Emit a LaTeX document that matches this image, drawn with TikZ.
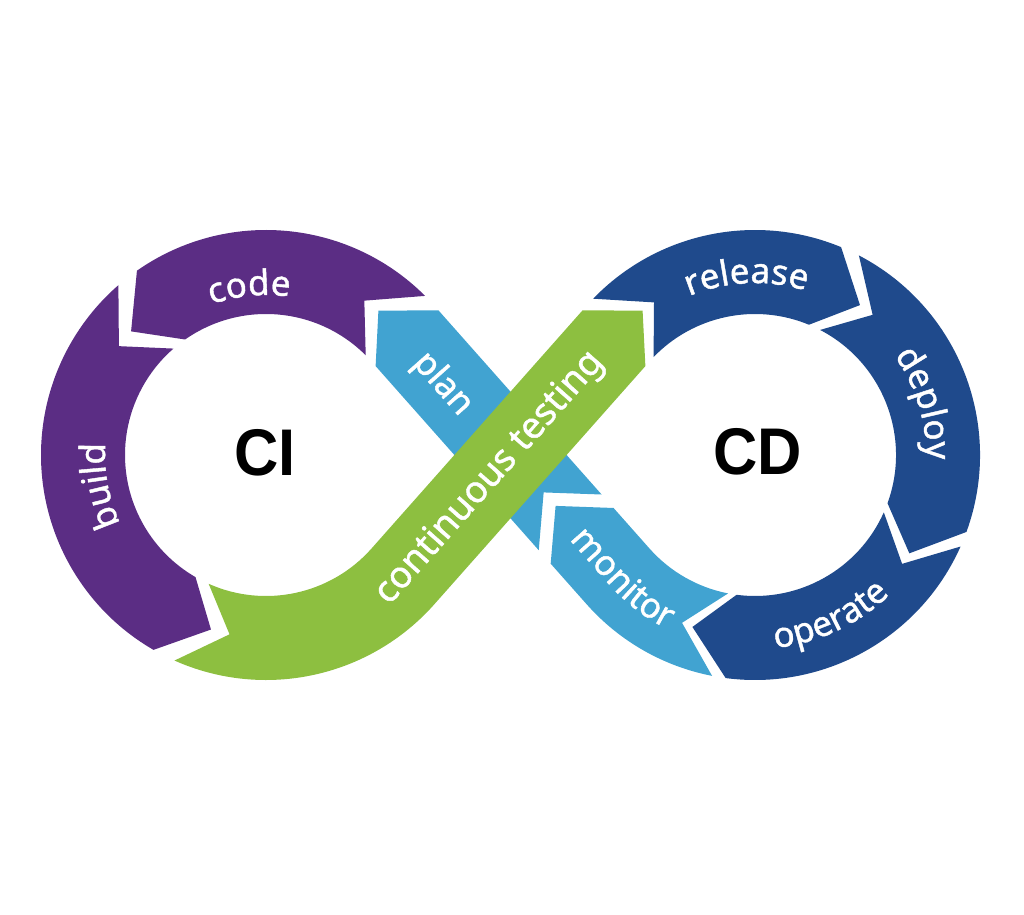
\documentclass[tikz,border=0pt]{standalone}
\usepackage{fontspec}
\setmainfont{Noto Sans}
\newfontfamily\lblfam[FakeBold=1.2]{Noto Sans}
\newfontfamily\bigfam{Liberation Sans}
\usetikzlibrary{calc,decorations.text}
\definecolor{cipurple}{HTML}{5B2D84}
\definecolor{ctgreen}{HTML}{8DBF40}
\definecolor{ltblue}{HTML}{41A3D1}
\definecolor{dkblue}{HTML}{1F4A8C}
\newcommand{\lblfont}{\lblfam\fontsize{35}{40}\selectfont}
\begin{document}
\begin{tikzpicture}[x=1pt,y=1pt,
  lbl/.style={text=white,font=\lblfont,inner sep=0pt},
  big/.style={text=black,font=\bigfam\bfseries\fontsize{66}{70}\selectfont,inner sep=0pt,xscale=0.93},
  curvlbl/.style={decorate,decoration={text along path,text align=center,text={|\lblfont\color{white}|#1}}}]
\useasboundingbox (0,0) rectangle (1024,914);
\coordinate (C1) at (266,459);
\coordinate (C2) at (755,459);
\coordinate (M) at (510.5,459);

% ---- plan (light blue, straight) ----
\fill[ltblue] ($(M)+(311.54:90pt)+(221.54:42pt)$) -- ($(M)+(131.54:156pt)+(221.54:42pt)$)
  -- ($(C1)+(52.1:183pt)$) -- ($(M)+(131.54:156pt)+(41.54:42pt)$)
  -- ($(M)+(311.54:90pt)+(41.54:42pt)$) -- ($(M)+(311.54:50pt)$) -- cycle;

% ---- monitor ----
\fill[ltblue] ($(C2)+(-101:225pt)$) arc[start angle=-101,end angle=-138.46,radius=225pt]
  -- ($(M)+(311.54:108pt)+(221.54:42pt)$) -- ($(M)+(311.54:68pt)$)
  -- ($(M)+(311.54:108pt)+(41.54:42pt)$) -- ($(C2)+(-138.46:141pt)$)
  arc[start angle=-138.46,end angle=-101,radius=141pt] -- ($(C2)+(-113.5:183pt)$) -- cycle;

% ---- code ----
\fill[cipurple] ($(C1)+(45:225pt)$) arc[start angle=45,end angle=125,radius=225pt]
  -- ($(C1)+(137.5:183pt)$) -- ($(C1)+(125:141pt)$)
  arc[start angle=125,end angle=45,radius=141pt] -- ($(C1)+(57.5:183pt)$) -- cycle;

% ---- build ----
\fill[cipurple] ($(C1)+(131:225pt)$) arc[start angle=131,end angle=240,radius=225pt]
  -- ($(C1)+(252.5:183pt)$) -- ($(C1)+(240:141pt)$)
  arc[start angle=240,end angle=131,radius=141pt] -- ($(C1)+(143.5:183pt)$) -- cycle;

% ---- release ----
\fill[dkblue] ($(C2)+(136:225pt)$) arc[start angle=136,end angle=67.5,radius=225pt]
  -- ($(C2)+(55:183pt)$) -- ($(C2)+(67.5:141pt)$)
  arc[start angle=67.5,end angle=136,radius=141pt] -- ($(C2)+(123.5:183pt)$) -- cycle;

% ---- deploy ----
\fill[dkblue] ($(C2)+(62.5:225pt)$) arc[start angle=62.5,end angle=-20,radius=225pt]
  -- ($(C2)+(-32.5:183pt)$) -- ($(C2)+(-20:141pt)$)
  arc[start angle=-20,end angle=62.5,radius=141pt] -- ($(C2)+(50:183pt)$) -- cycle;

% ---- operate ----
\fill[dkblue] ($(C2)+(-24:225pt)$) arc[start angle=-24,end angle=-97.5,radius=225pt]
  -- ($(C2)+(-110:183pt)$) -- ($(C2)+(-97.5:141pt)$)
  arc[start angle=-97.5,end angle=-24,radius=141pt] -- ($(C2)+(-36.5:183pt)$) -- cycle;

% ---- continuous testing (green) ----
\fill[ctgreen] ($(C1)+(246:225pt)$) arc[start angle=246,end angle=318.46,radius=225pt]
  -- ($(M)+(48.46:156pt)+(318.46:42pt)$) -- ($(C2)+(127.9:183pt)$)
  -- ($(M)+(48.46:156pt)+(138.46:42pt)$) -- ($(C1)+(318.46:141pt)$)
  arc[start angle=318.46,end angle=246,radius=141pt] -- ($(C1)+(258.5:183pt)$) -- cycle;

% ---- labels ----
\path[curvlbl=code] ($(C1)+(135.7:160pt)$) arc[start angle=135.7,end angle=55.7,radius=160pt];
\path[curvlbl=build] ($(C1)+(230.5:161pt)$) arc[start angle=230.5,end angle=150.5,radius=161pt];
\path[curvlbl=release] ($(C2)+(132.7:172pt)$) arc[start angle=132.7,end angle=52.7,radius=172pt];
\path[curvlbl=deploy] ($(C2)+(57:171pt)$) arc[start angle=57,end angle=-23,radius=171pt];
\path[curvlbl=operate] ($(C2)+(-105:194pt)$) arc[start angle=-105,end angle=-25,radius=194pt];
\path[curvlbl=monitor] ($(M)+(311.54:80pt)+(221.54:12pt)$) -- ($(C2)+(221.54:195pt)$)
  arc[start angle=221.54,end angle=249.5,radius=195pt];
\node[lbl,rotate=-48.46] (plan) at ($(M)+(131.54:98pt)+(221.54:4pt)$) {plan};
\node[lbl,rotate=48.46,font=\lblfam\fontsize{37}{40}\selectfont] (ct) at ($(M)+(228.46:31pt)$) {continuous testing};

\node[big] (CI) at (265,461.5) {CI};
\node[big] (CD) at (757.5,462) {CD};
\end{tikzpicture}
\end{document}
